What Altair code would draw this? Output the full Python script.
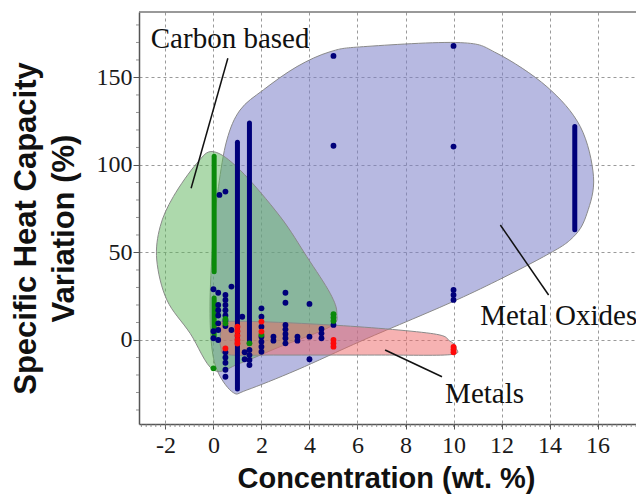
import altair as alt
import pandas as pd

# ---------------- data ----------------
# hull outlines (Metal Oxides, Carbon based, Metals)
mo_hull_x = [0.56, 1.11, 2.08, 3.48, 4.86, 6.25, 10.28, 11.81, 13.89, 15.28, 15.83, 15.56, 15.0, 13.75, 10.42, 6.25, 3.48, 1.39, 0.83, 0.21, -0.07, -0.14, 0.0, 0.21]
mo_hull_y = [114.3, 131.4, 142.9, 156.2, 164.7, 167.6, 169.9, 163.8, 144.7, 121.9, 93.3, 72.4, 59.0, 47.6, 24.7, 0.0, -17.1, -28.6, -30.1, -19.0, -3.8, 22.9, 61.0, 87.6]
cb_hull_x = [0.0, 1.11, 2.78, 3.89, 4.86, 5.14, 4.86, 2.78, 1.11, 0.0, -0.97, -1.94, -2.36, -2.22, -1.67, -0.69]
cb_hull_y = [107.6, 97.1, 70.5, 47.6, 26.7, 15.3, 7.6, -3.8, -13.3, -17.1, 3.8, 22.9, 45.7, 64.7, 81.9, 101.0]
m_hull_x = [0.42, 4.86, 9.03, 9.85, 10.12, 9.85, 7.0, 4.86, 2.5, 0.6, 0.3, 0.3]
m_hull_y = [10.5, 8.6, 3.8, -0.6, -4.8, -8.4, -8.6, -8.6, -8.6, -8.4, -4.0, 4.0]

# scatter points
mo_x = [0.0, 0.2, 0.0, 0.0, 0.2, 0.2, 0.2, 0.2, 0.2, 0.2, 0.5, 0.5, 0.5, 0.5, 0.5, 0.5, 0.5, 0.5, 0.5, 0.5, 0.5, 0.5,
        0.75, 0.75, 0.25, 0.5, 1.2, 1.5, 1.5, 1.5, 1.5, 1.3, 1.3, 2, 2, 2, 2, 2, 2, 2, 2.5, 2.5,
        3, 3, 3, 3, 3, 3, 3, 3.5, 3.5, 4, 4, 4, 4.5, 4.5, 4.5, 5, 5, 5, 10, 10, 10, 10, 10]
mo_y = [29, 27, 5, 1, 20, 17, 14, 9.5, 5.7, 0, 25.7, 22.9, 20, 17, 14, 11, 8, -7, -10, -13, -17, -21,
        30.5, 5.7, 82.9, 84.8, 13.3, -5.7, -8.6, -11.4, -14.3, -7, -11, 18.1, 13.3, 7.6, 1.9, -1, -3.8, -6.7, 1.9, -0.4,
        27, 21.3, 8.6, 6.1, 3.4, 1, -1.9, 1.9, -0.4, 20.6, 1.9, -11, 6.3, 3.8, 1, 8.6, 162.3, 111, 168, 110.5, 28.6, 25.7, 22.9]
cb_x = [0.5, 0.5, 5, 5, 5, 1.5, 0.0, 2]
cb_y = [9.5, 12, 14.7, 12.8, 10.9, -1.9, -16.2, 3]
m_x = [1, 1, 1, 1, 1, 0.5, 2, 2, 5, 5, 5, 10, 10, 10]
m_y = [7.6, 5, 2.5, 0, -2, -4.8, 10.5, 4.8, 0, -1.9, -3.8, -4, -5.5, -7]

# dense columns of points (drawn as elongated streaks)
col_group = ["Metal Oxides", "Metal Oxides", "Metal Oxides", "Carbon based", "Carbon based"]
col_x = [1.0, 1.5, 15.05, 0.03, 0.03]
col_lo = [-28, -2, 63, 39, 2]
col_hi = [113, 124, 122, 105, 24]

# annotations
lab_text = ["Carbon based", "Metal Oxides", "Metals"]
lab_x = [-2.61, 11.11, 9.65]
lab_y = [166.7, 8.6, -36.0]
lead_x = [0.6, 11.95, 7.15]
lead_y = [161.0, 65.7, -5.7]
lead_x2 = [-0.93, 13.96, 9.52]
lead_y2 = [86.7, 25.7, -21.0]

x_ticks = [-2, 0, 2, 4, 6, 8, 10, 12, 14, 16]
y_ticks = [0, 50, 100, 150]
x_minor = [round(-3.0 + 0.2 * i, 2) for i in range(104)]
y_minor = [-40, -30, -20, -10, 10, 20, 30, 40, 60, 70, 80, 90, 110, 120, 130, 140, 160, 170, 180]

X_DOMAIN = [-3.1, 17.6]
Y_DOMAIN = [-48, 187.4]
W, H = 497, 412

groups = ["Metal Oxides", "Carbon based", "Metals"]
colors = ["#00007a", "#0a8a0a", "#ff0a0a"]

xs = alt.Scale(domain=X_DOMAIN, nice=False, zero=False)
ys = alt.Scale(domain=Y_DOMAIN, nice=False, zero=False)
cscale = alt.Scale(domain=groups, range=colors)

TICK_FONT = "Liberation Serif"
TITLE_FONT = "Liberation Sans"

x_axis = alt.Axis(
    values=x_ticks, title="Concentration (wt. %)", grid=True,
    labelExpr="replace(datum.label, '\u2212', '-')",
    labelFont=TICK_FONT, labelFontSize=24, labelColor="#1a1a1a", labelPadding=4,
    tickSize=5, tickColor="#555", domainColor="#555", domainWidth=1.5,
    titleFont=TITLE_FONT, titleFontSize=29, titleFontWeight="bold", titleColor="#111",
    titleX=247, titleY=63, titleBaseline="alphabetic", titleAnchor="middle", titleAlign="center",
)
y_axis = alt.Axis(
    values=y_ticks, title=["Specific Heat Capacity", "Variation (%)"], grid=True,
    labelFont=TICK_FONT, labelFontSize=24, labelColor="#1a1a1a", labelPadding=1,
    tickSize=6, tickColor="#555", domainColor="#555", domainWidth=1.5,
    titleFont=TITLE_FONT, titleFontSize=31, titleFontWeight="bold", titleColor="#111",
    titleX=-113, titleY=216, titleBaseline="middle", titleAlign="center", titleAngle=-90,
    titleLineHeight=38,
)


def X(f):
    return alt.X(f, scale=xs, axis=x_axis)


def Y(f):
    return alt.Y(f, scale=ys, axis=y_axis)


def hull(xv, yv, fill, op):
    d = pd.DataFrame({"x": xv, "y": yv, "i": list(range(len(xv)))})
    return alt.Chart(d).mark_line(
        interpolate="cardinal-closed", fill=fill, fillOpacity=op,
        stroke="#8a8a8a", strokeWidth=1
    ).encode(x=X("x:Q"), y=Y("y:Q"), order=alt.Order("i:Q"))


mo_layer = hull(mo_hull_x, mo_hull_y, "#7c80c8", 0.55)
cb_layer = hull(cb_hull_x, cb_hull_y, "#5cb35a", 0.5)
m_layer = hull(m_hull_x, m_hull_y, "#ee6666", 0.5)

pts_df = pd.DataFrame({
    "x": mo_x + cb_x + m_x,
    "y": mo_y + cb_y + m_y,
    "g": ["Metal Oxides"] * len(mo_x) + ["Carbon based"] * len(cb_x) + ["Metals"] * len(m_x),
})
points = alt.Chart(pts_df).mark_circle(size=34, opacity=1).encode(
    x=X("x:Q"), y=Y("y:Q"),
    color=alt.Color("g:N", scale=cscale, legend=None),
)

col_df = pd.DataFrame({"x": col_x, "y": col_lo, "y2": col_hi, "g": col_group})
columns = alt.Chart(col_df).mark_rule(strokeWidth=5, strokeCap="round").encode(
    x=X("x:Q"), y=Y("y:Q"), y2="y2:Q",
    color=alt.Color("g:N", scale=cscale, legend=None),
)

lead_df = pd.DataFrame({"x": lead_x, "y": lead_y, "x2": lead_x2, "y2": lead_y2})
leaders = alt.Chart(lead_df).mark_rule(color="#111", strokeWidth=1.5).encode(
    x=X("x:Q"), y=Y("y:Q"), x2="x2:Q", y2="y2:Q",
)

lab_df = pd.DataFrame({"x": lab_x, "y": lab_y, "t": lab_text})
labels = alt.Chart(lab_df).mark_text(
    font=TICK_FONT, fontSize=29, align="left", baseline="alphabetic", color="#111"
).encode(x=X("x:Q"), y=Y("y:Q"), text="t:N")

top_border = alt.Chart(pd.DataFrame({"y": [Y_DOMAIN[1]]})).mark_rule(color="#777", strokeWidth=1.5).encode(
    y=Y("y:Q")
)

xminor = alt.Chart(pd.DataFrame({"x": x_minor})).mark_rule(color="#777", strokeWidth=0.8).encode(
    x=X("x:Q"), y=alt.value(H), y2=alt.value(H + 3)
)
yminor = alt.Chart(pd.DataFrame({"y": y_minor})).mark_rule(color="#777", strokeWidth=0.8).encode(
    y=Y("y:Q"), x=alt.value(-3), x2=alt.value(0)
)

chart = alt.layer(
    mo_layer, cb_layer, m_layer, columns, points, leaders, labels, top_border, xminor, yminor
).properties(
    width=W, height=H,
    autosize=alt.AutoSizeParams(type="none"),
    padding={"left": 139, "top": 12, "right": 0, "bottom": 76},
).configure_view(stroke=None).configure_axis(
    gridDash=[3, 3], gridColor="#9a9a9a", gridWidth=1, gridOpacity=1
)

chart.save("out.html", embed_options={"renderer": "svg", "actions": False})
